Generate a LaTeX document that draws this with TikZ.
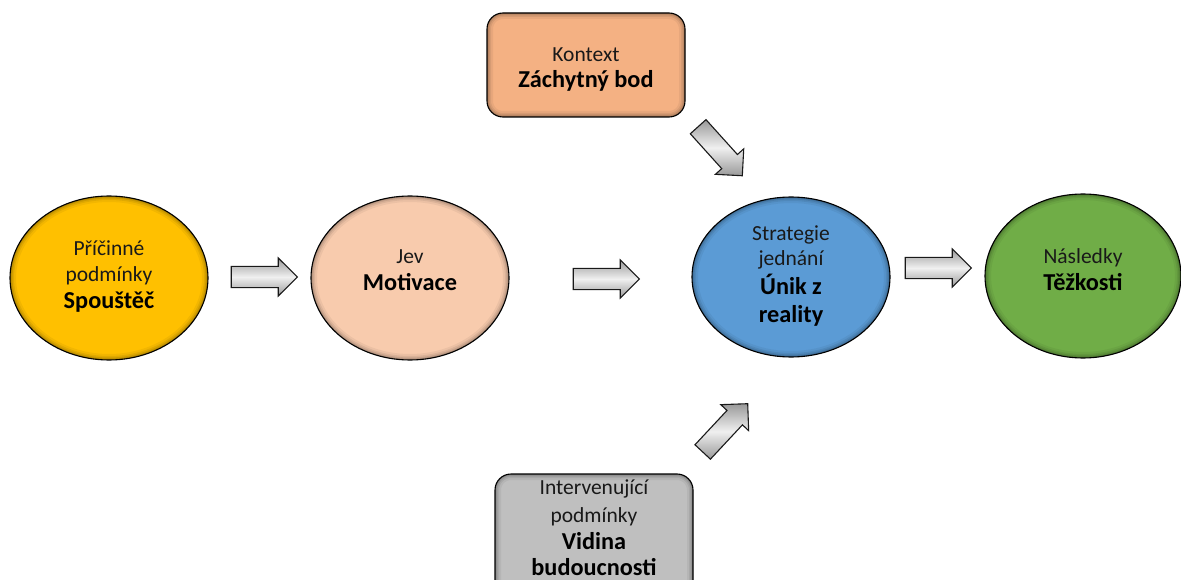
\documentclass[tikz,border=0pt]{standalone}
\usepackage{fontspec}
\setmainfont{Carlito}
\usetikzlibrary{shapes.geometric,shapes.arrows,calc}
\definecolor{cyellow}{HTML}{FFC000}
\definecolor{cpeach}{HTML}{F8CBAD}
\definecolor{cblue}{HTML}{5B9BD5}
\definecolor{cgreen}{HTML}{70AD47}
\definecolor{corange}{HTML}{F4B183}
\definecolor{cgray}{HTML}{BFBFBF}
\tikzset{
  ellglow/.style={path picture={
    \foreach \w/\o in {12/0.05,8/0.07,5/0.09,2.5/0.12}{
      \draw[line width=\w pt, black, opacity=\o]
        let \p1=(path picture bounding box.north east), \p2=(path picture bounding box.center) in
        (\p2) ellipse [x radius=\x1-\x2, y radius=\y1-\y2];}
  }},
  boxglow/.style={path picture={
    \foreach \w/\o in {12/0.05,8/0.07,5/0.09,2.5/0.12}{
      \draw[line width=\w pt, black, opacity=\o, rounded corners=16pt]
        (path picture bounding box.south west) rectangle (path picture bounding box.north east);}
  }},
  ell/.style={ellipse, draw=black, line width=1.1pt, minimum width=198pt, minimum height=164pt, inner sep=0pt, ellglow},
  rbox/.style={rectangle, rounded corners=16pt, draw=black, line width=1.1pt, minimum width=198pt, minimum height=104pt, inner sep=0pt, boxglow},
  rg/.style={anchor=mid, inner sep=0pt, text=black!90, font=\fontsize{21.5}{26}\selectfont},
  bd/.style={anchor=mid, inner sep=0pt, text=black, font=\fontsize{24.3}{28}\selectfont\bfseries},
  blockarrow/.style={single arrow, draw=black!90, line width=1.1pt, minimum height=66pt, minimum width=37pt,
    single arrow head extend=8.5pt, inner xsep=0pt, inner ysep=10pt,
    top color=gray!80, bottom color=gray!80, middle color=gray!12},
}
\begin{document}
\begin{tikzpicture}[x=1pt,y=-1pt]
\clip (0,0) rectangle (1181,580);
\fill[white] (0,0) rectangle (1181,580);
% ellipses
\node[ell, fill=cyellow] (spoust) at (109,278) {};
\node[rg] (spoust1) at (109,253.5) {Příčinné};
\node[rg] (spoust2) at (109,279.5) {podmínky};
\node[bd] (spoust3) at (109,306) {Spouštěč};
\node[ell, fill=cpeach] (motiv) at (410,278) {};
\node[rg] (motiv1) at (410,261) {Jev};
\node[bd] (motiv2) at (410,288.5) {Motivace};
\node[ell, fill=cblue, minimum height=160pt] (unik) at (791,277) {};
\node[rg] (unik1) at (791,238) {Strategie};
\node[rg] (unik2) at (791,263.5) {jednání};
\node[bd] (unik3) at (791,292) {Únik z};
\node[bd] (unik4) at (791,320) {reality};
\node[ell, fill=cgreen, minimum width=196pt] (tezk) at (1083,276) {};
\node[rg] (tezk1) at (1083,261) {Následky};
\node[bd] (tezk2) at (1083,288) {Těžkosti};
% boxes
\node[rbox, fill=corange, minimum height=104pt] (kont) at (586,65) {};
\node[rg] (kont1) at (586,59.5) {Kontext};
\node[bd] (kont2) at (586,85) {Záchytný bod};
\node[rbox, fill=cgray, minimum height=130pt] (vid) at (594,539) {};
\node[rg] (vid1) at (594,492.5) {Intervenující};
\node[rg] (vid2) at (594,520) {podmínky};
\node[bd] (vid3) at (594,547) {Vidina};
\node[bd] (vid4) at (594,573.5) {budoucnosti};
% block arrows
\node[blockarrow] (a1) at (259,277) {};
\node[blockarrow] (a2) at (601,279) {};
\node[blockarrow] (a3) at (933,268) {};
\node[blockarrow, rotate=-48] (a4) at (716.7,147.3) {};
\node[blockarrow, rotate=47] (a5) at (721.6,431.7) {};
\end{tikzpicture}
\end{document}
